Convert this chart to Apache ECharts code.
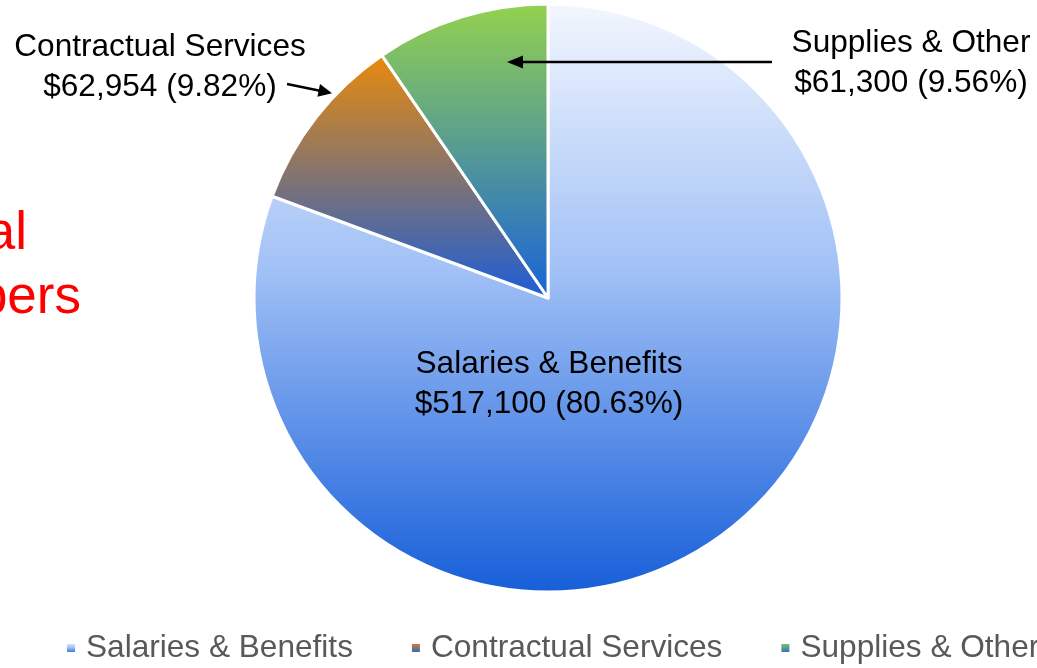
<!DOCTYPE html>
<html>
<head>
<meta charset="utf-8">
<script src="https://cdn.jsdelivr.net/npm/echarts@6/dist/echarts.min.js"></script>
<style>
html,body{margin:0;padding:0;background:#fff;}
#main{width:1037px;height:668px;}
</style>
</head>
<body>
<div id="main"></div>
<script>
const categories = ['Salaries & Benefits', 'Contractual Services', 'Supplies & Other'];
const values = [517100, 62954, 61300];
const topColors = ['#f3f7fe', '#ea8a0a', '#94d24e'];
const midColors = ['#a2c1f6', null, null];
const bottomColors = ['#165ed9', '#1b5dd8', '#1762da'];
const sideText = ['al', 'pers'];
// label anchor points (annotation layout)
const labelPos = [[549, 384], [160, 67], [911, 63]];

const total = values.reduce((a, b) => a + b, 0);
const FONT = '"Liberation Sans", Arial, sans-serif';

function grad(i) {
  const stops = [{offset: 0, color: topColors[i]}];
  if (midColors[i]) stops.push({offset: 0.45, color: midColors[i]});
  stops.push({offset: 1, color: bottomColors[i]});
  return {type: 'linear', x: 0, y: 0, x2: 0, y2: 1, colorStops: stops};
}

const chart = echarts.init(document.getElementById('main'), null, {renderer: 'canvas'});
chart.setOption({
  animation: false,
  backgroundColor: '#ffffff',
  legend: {
    left: 65, top: 632, width: 1600, padding: 0,
    itemGap: 57, itemWidth: 10, itemHeight: 10, icon: 'rect',
    textStyle: {fontSize: 31.6, color: '#595959', fontFamily: FONT, padding: [0, 0, 0, 5]},
    data: categories
  },
  series: [{
    type: 'pie',
    center: [548, 298],
    radius: 294,
    startAngle: 90,
    clockwise: true,
    silent: true,
    itemStyle: {borderColor: '#ffffff', borderWidth: 3},
    label: {
      show: true, position: 'inside',
      color: '#000', fontSize: 31.6, lineHeight: 40, fontFamily: FONT,
      formatter: p => p.name + '\n$' + p.value.toLocaleString('en-US') + ' (' + (p.value / total * 100).toFixed(2) + '%)'
    },
    labelLine: {show: false},
    labelLayout: p => ({x: labelPos[p.dataIndex][0], y: labelPos[p.dataIndex][1], align: 'center', verticalAlign: 'middle'}),
    emphasis: {disabled: true},
    data: categories.map((c, i) => ({name: c, value: values[i], itemStyle: {color: grad(i)}}))
  }],
  graphic: [
    {type: 'text', z: 100, x: 27, y: 234, style: {text: sideText[0], align: 'right', verticalAlign: 'middle', fill: '#ff0000', font: '53px ' + FONT}},
    {type: 'text', z: 100, x: 81, y: 298, style: {text: sideText[1], align: 'right', verticalAlign: 'middle', fill: '#ff0000', font: '53px ' + FONT}},
    // Supplies arrow
    {type: 'line', z: 100, shape: {x1: 772, y1: 62, x2: 520, y2: 62}, style: {stroke: '#000', lineWidth: 2.5}},
    {type: 'polygon', z: 100, shape: {points: [[507, 62], [523, 55.5], [523, 68.5]]}, style: {fill: '#000'}},
    // Contractual arrow
    {type: 'line', z: 100, shape: {x1: 287, y1: 84, x2: 320, y2: 90.7}, style: {stroke: '#000', lineWidth: 2.5}},
    {type: 'polygon', z: 100, shape: {points: [[332, 93.2], [317.4, 96.7], [320, 84]]}, style: {fill: '#000'}}
  ]
});
</script>
</body>
</html>
